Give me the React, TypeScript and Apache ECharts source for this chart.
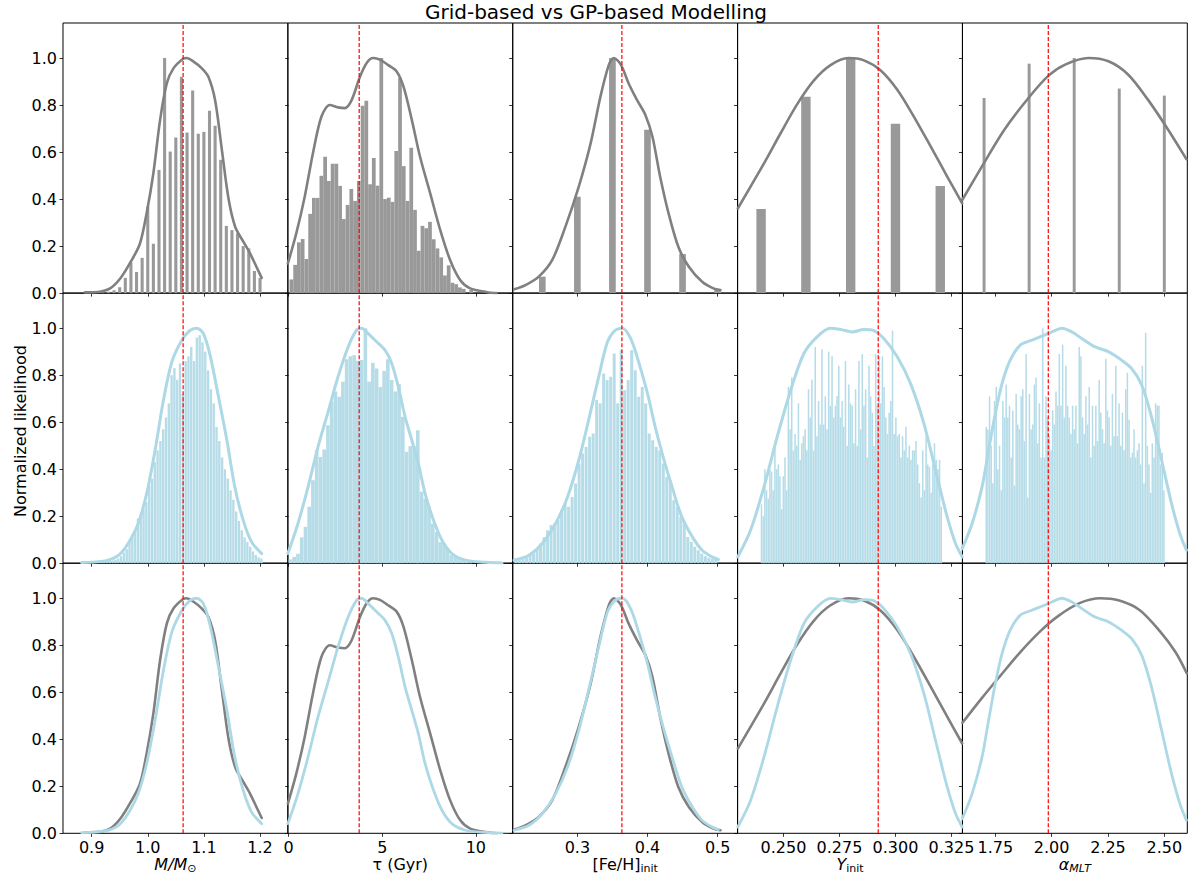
import React, { useEffect, useRef } from "react";
import * as echarts from "echarts";

const FONT = "DejaVu Sans";

// ---- axes per column ----
const COLUMN_MIN = [0.849, -0.04, 0.2078, 0.2295, 1.604];
const COLUMN_MAX = [1.2496, 11.97, 0.5285, 0.3299, 2.602];
const COLUMN_TICKS = [
  [0.9, 1.0, 1.1, 1.2],
  [0, 5, 10],
  [0.3, 0.4, 0.5],
  [0.25, 0.275, 0.3, 0.325],
  [1.75, 2.0, 2.25, 2.5],
];
const COLUMN_DECIMALS = [1, 0, 1, 3, 2];
const COLUMN_NAMES = [
  "{i|M/M}{s|⊙}",
  "{n|τ (Gyr)}",
  "{n|[Fe/H]}{s|init}",
  "{i|Y}{s|init}",
  "{i|α}{si|MLT}",
];
const Y_TICKS = [0, 0.2, 0.4, 0.6, 0.8, 1.0];
const Y_MAX = 1.149;
const TRUE_VALUES = [1.063, 3.77, 0.3635, 0.2923, 1.985];

// ---- grid-based histograms (row 1) ----
const GRID_M_CENTERS = [0.9, 0.91, 0.92, 0.93, 0.94, 0.95, 0.96, 0.97, 0.98, 0.99, 1.0, 1.01, 1.02, 1.03, 1.04, 1.05, 1.06, 1.07, 1.08, 1.09, 1.1, 1.11, 1.12, 1.13, 1.14, 1.15, 1.16, 1.17, 1.18, 1.19, 1.2];
const GRID_M_HEIGHTS = [0.003, 0.0, 0.003, 0.006, 0.012, 0.025, 0.065, 0.13, 0.09, 0.15, 0.368, 0.21, 0.524, 1.0, 0.602, 0.662, 0.92, 0.683, 0.862, 0.678, 0.686, 0.776, 0.712, 0.567, 0.286, 0.268, 0.254, 0.2, 0.19, 0.094, 0.065];
const GRID_TAU_START = 0.05;
const GRID_TAU_BIN = 0.2;
const GRID_TAU_HEIGHTS = [0.058, 0.12, 0.216, 0.23, 0.145, 0.337, 0.405, 0.405, 0.499, 0.58, 0.477, 0.55, 0.55, 0.456, 0.315, 0.375, 0.443, 0.392, 0.477, 0.797, 0.818, 0.463, 0.575, 0.457, 1.0, 0.4, 0.406, 0.388, 0.605, 0.916, 0.54, 0.392, 0.618, 0.354, 0.18, 0.286, 0.276, 0.303, 0.229, 0.19, 0.152, 0.075, 0.118, 0.044, 0.038, 0.024, 0.018, 0.0, 0.013];
const GRID_FEH_CENTERS = [0.25, 0.3, 0.35, 0.4, 0.45, 0.5];
const GRID_FEH_HEIGHTS = [0.07, 0.41, 1.0, 0.695, 0.166, 0.013];
const GRID_Y_CENTERS = [0.24, 0.26, 0.28, 0.3, 0.32];
const GRID_Y_HEIGHTS = [0.358, 0.835, 1.0, 0.72, 0.456];
const GRID_ALPHA_CENTERS = [1.7, 1.9, 2.1, 2.3, 2.5];
const GRID_ALPHA_HEIGHTS = [0.83, 0.976, 1.0, 0.87, 0.84];

// ---- GP-based histograms (row 2) ----
const GP_M_START = 0.88;
const GP_M_BIN = 0.005;
const GP_M_HEIGHTS = [0.002, 0.002, 0.003, 0.003, 0.003, 0.004, 0.005, 0.006, 0.008, 0.007, 0.01, 0.012, 0.015, 0.02, 0.03, 0.045, 0.06, 0.09, 0.11, 0.14, 0.19, 0.21, 0.23, 0.26, 0.33, 0.36, 0.43, 0.48, 0.52, 0.57, 0.62, 0.68, 0.8, 0.83, 0.78, 0.85, 0.72, 0.86, 0.88, 0.92, 0.86, 0.96, 0.97, 0.94, 0.9, 0.82, 0.74, 0.68, 0.58, 0.52, 0.45, 0.4, 0.36, 0.31, 0.27, 0.22, 0.18, 0.14, 0.11, 0.09, 0.07, 0.05, 0.035, 0.025, 0.02];
const GP_TAU_START = 0.0;
const GP_TAU_BIN = 0.2;
const GP_TAU_HEIGHTS = [0.016, 0.027, 0.04, 0.11, 0.155, 0.24, 0.353, 0.48, 0.452, 0.484, 0.587, 0.687, 0.73, 0.708, 0.772, 0.868, 0.88, 0.885, 0.861, 0.864, 1.0, 0.772, 0.852, 0.828, 0.75, 0.818, 0.868, 0.779, 0.73, 0.762, 0.623, 0.474, 0.498, 0.498, 0.566, 0.304, 0.275, 0.24, 0.169, 0.133, 0.09, 0.084, 0.062, 0.034, 0.027, 0.018, 0.013, 0.007, 0.004];
const GP_FEH_START = 0.21;
const GP_FEH_BIN = 0.005;
const GP_FEH_HEIGHTS = [0.01, 0.013, 0.018, 0.024, 0.034, 0.041, 0.062, 0.084, 0.11, 0.14, 0.162, 0.169, 0.183, 0.226, 0.254, 0.24, 0.282, 0.339, 0.424, 0.467, 0.495, 0.538, 0.552, 0.694, 0.68, 0.807, 0.779, 0.793, 0.892, 0.68, 0.906, 0.736, 0.779, 0.906, 0.821, 0.708, 0.75, 0.68, 0.552, 0.523, 0.495, 0.48, 0.424, 0.367, 0.353, 0.268, 0.24, 0.197, 0.169, 0.112, 0.091, 0.07, 0.055, 0.041, 0.03, 0.023, 0.018, 0.016];
const GP_Y_START = 0.2398;
const GP_Y_BIN = 0.00075;
const GP_Y_HEIGHTS = [0.25, 0.2, 0.4, 0.31, 0.275, 0.4, 0.39, 0.31, 0.49, 0.4, 0.42, 0.37, 0.23, 0.37, 0.45, 0.31, 0.75, 0.57, 0.79, 0.48, 0.55, 0.5, 0.68, 0.44, 0.51, 0.54, 0.57, 0.48, 0.74, 0.62, 0.78, 0.48, 0.92, 0.54, 0.69, 0.59, 0.91, 0.59, 0.71, 0.57, 0.9, 0.67, 0.88, 0.62, 0.67, 0.71, 0.84, 0.62, 0.69, 0.58, 0.86, 0.5, 0.76, 0.68, 0.67, 0.51, 0.74, 0.5, 0.86, 0.57, 0.89, 0.67, 0.74, 0.45, 0.84, 0.71, 0.64, 0.5, 0.89, 0.67, 0.88, 0.68, 0.88, 0.75, 0.62, 0.55, 0.64, 0.69, 0.99, 0.55, 0.62, 0.54, 0.55, 0.45, 0.54, 0.48, 0.58, 0.45, 0.5, 0.44, 0.48, 0.48, 0.52, 0.42, 0.34, 0.28, 0.48, 0.31, 0.54, 0.42, 0.41, 0.3, 0.42, 0.51, 0.44, 0.4, 0.44, 0.24];
const GP_ALPHA_START = 1.706;
const GP_ALPHA_BIN = 0.00737;
const GP_ALPHA_HEIGHTS = [0.58, 0.57, 0.71, 0.5, 0.34, 0.69, 0.75, 0.4, 0.5, 0.31, 0.69, 0.62, 0.76, 0.62, 0.67, 0.45, 0.65, 0.33, 0.72, 0.59, 0.57, 0.71, 0.74, 0.52, 0.89, 0.28, 0.72, 0.57, 0.59, 0.76, 0.79, 0.51, 0.68, 0.45, 1.0, 0.45, 0.71, 0.62, 0.54, 0.48, 0.65, 0.59, 0.73, 0.67, 0.89, 0.67, 0.93, 0.62, 0.84, 0.67, 0.62, 0.55, 0.67, 0.57, 0.67, 0.51, 0.92, 0.88, 0.62, 0.55, 0.71, 0.59, 0.75, 0.45, 0.67, 0.5, 0.67, 0.52, 0.78, 0.64, 0.57, 0.51, 0.87, 0.65, 0.62, 0.5, 0.72, 0.54, 0.84, 0.54, 0.68, 0.5, 0.64, 0.48, 0.74, 0.81, 0.61, 0.45, 0.47, 0.57, 0.45, 0.48, 0.51, 0.42, 0.84, 0.34, 0.98, 0.5, 0.42, 0.3, 0.51, 0.45, 0.68, 0.67, 0.67, 0.42, 0.47, 0.31];

// ---- KDE curves ----
const KDE_GRID_M = [[0.888, 0.003], [0.915, 0.006], [0.933, 0.02], [0.951, 0.062], [0.968, 0.126], [0.986, 0.21], [0.998, 0.34], [1.01, 0.51], [1.022, 0.737], [1.034, 0.893], [1.046, 0.957], [1.063, 0.997], [1.069, 1.0], [1.081, 0.986], [1.096, 0.957], [1.108, 0.92], [1.12, 0.82], [1.132, 0.61], [1.144, 0.4], [1.156, 0.28], [1.17, 0.22], [1.182, 0.17], [1.194, 0.11], [1.203, 0.065]];
const KDE_GRID_TAU = [[-0.04, 0.126], [0.41, 0.254], [0.86, 0.41], [1.3, 0.595], [1.75, 0.75], [2.2, 0.8], [2.64, 0.79], [3.0, 0.787], [3.36, 0.82], [3.81, 0.92], [4.17, 0.979], [4.52, 1.0], [4.88, 0.993], [5.32, 0.97], [5.77, 0.943], [6.13, 0.88], [6.58, 0.737], [7.02, 0.58], [7.56, 0.425], [8.1, 0.268], [8.63, 0.14], [9.17, 0.055], [9.7, 0.02], [10.6, 0.004], [11.1, 0.0]];
const KDE_GRID_FEH = [[0.21, 0.016], [0.226, 0.034], [0.245, 0.07], [0.264, 0.14], [0.283, 0.283], [0.302, 0.453], [0.319, 0.638], [0.333, 0.837], [0.345, 0.972], [0.352, 1.0], [0.362, 0.972], [0.373, 0.893], [0.385, 0.822], [0.397, 0.758], [0.407, 0.666], [0.418, 0.496], [0.43, 0.34], [0.444, 0.197], [0.459, 0.112], [0.478, 0.048], [0.494, 0.02], [0.504, 0.013]];
const KDE_GRID_Y = [[0.2296, 0.36], [0.2413, 0.552], [0.2487, 0.68], [0.2562, 0.805], [0.2636, 0.905], [0.271, 0.97], [0.279, 1.0], [0.2859, 0.99], [0.2933, 0.948], [0.3008, 0.865], [0.3082, 0.751], [0.3157, 0.624], [0.3231, 0.496], [0.3298, 0.382]];
const KDE_GRID_ALPHA = [[1.603, 0.396], [1.69, 0.538], [1.79, 0.695], [1.897, 0.83], [1.986, 0.925], [2.06, 0.972], [2.163, 1.0], [2.252, 0.986], [2.34, 0.929], [2.428, 0.822], [2.517, 0.695], [2.598, 0.57]];
const KDE_GRID_ALPHA_COMPARE = [[1.604, 0.47], [1.69, 0.575], [1.772, 0.67], [1.86, 0.77], [1.95, 0.86], [2.03, 0.925], [2.126, 0.98], [2.215, 1.0], [2.3, 0.99], [2.39, 0.95], [2.48, 0.86], [2.55, 0.77], [2.6, 0.68]];

const KDE_GP_M = [[0.882, 0.003], [0.924, 0.01], [0.948, 0.034], [0.965, 0.084], [0.983, 0.169], [0.998, 0.296], [1.013, 0.48], [1.028, 0.694], [1.043, 0.857], [1.061, 0.949], [1.075, 0.99], [1.087, 1.0], [1.099, 0.977], [1.111, 0.885], [1.126, 0.708], [1.141, 0.523], [1.155, 0.325], [1.17, 0.183], [1.185, 0.09], [1.203, 0.041]];
const KDE_GP_TAU = [[-0.04, 0.041], [0.5, 0.169], [1.04, 0.325], [1.57, 0.495], [2.11, 0.644], [2.64, 0.793], [3.18, 0.92], [3.63, 0.991], [3.9, 1.0], [4.25, 0.977], [4.7, 0.942], [5.15, 0.906], [5.51, 0.85], [5.86, 0.75], [6.22, 0.623], [6.58, 0.523], [6.93, 0.424], [7.29, 0.296], [7.74, 0.183], [8.19, 0.098], [8.72, 0.041], [9.44, 0.013], [10.51, 0.004], [11.4, 0.001]];
const KDE_GP_FEH = [[0.2097, 0.013], [0.231, 0.034], [0.25, 0.084], [0.269, 0.169], [0.286, 0.282], [0.302, 0.438], [0.316, 0.608], [0.331, 0.8], [0.343, 0.942], [0.354, 0.991], [0.364, 1.0], [0.376, 0.956], [0.388, 0.85], [0.4, 0.722], [0.411, 0.58], [0.423, 0.445], [0.435, 0.325], [0.449, 0.197], [0.464, 0.112], [0.478, 0.055], [0.492, 0.027], [0.501, 0.016]];
const KDE_GP_Y = [[0.2296, 0.027], [0.2353, 0.14], [0.2413, 0.325], [0.2472, 0.538], [0.2532, 0.736], [0.2591, 0.892], [0.265, 0.963], [0.271, 0.999], [0.2755, 0.994], [0.2807, 0.984], [0.2859, 0.994], [0.2904, 0.989], [0.2948, 0.956], [0.3008, 0.878], [0.3067, 0.765], [0.3127, 0.594], [0.3186, 0.367], [0.3231, 0.197], [0.3268, 0.084], [0.3298, 0.027]];
const KDE_GP_ALPHA = [[1.603, 0.062], [1.647, 0.169], [1.691, 0.325], [1.72, 0.48], [1.75, 0.637], [1.78, 0.765], [1.816, 0.864], [1.861, 0.928], [1.912, 0.949], [1.957, 0.966], [2.001, 0.984], [2.045, 1.0], [2.09, 0.984], [2.134, 0.956], [2.193, 0.92], [2.251, 0.9], [2.31, 0.864], [2.355, 0.828], [2.4, 0.757], [2.443, 0.623], [2.488, 0.438], [2.532, 0.254], [2.569, 0.126], [2.598, 0.055]];

// ---- styling ----
const GREY_BAR = "#999999";
const GREY_LINE = "#808080";
const BLUE_BAR = "#b6dce8";
const BLUE_LINE = "#add8e6";
const GRID_LEFT0 = 63;
const GRID_WIDTH = 224.86;
const GRID_TOP0 = 23;
const GRID_HEIGHT = 270.1;

function binned(start: number, bin: number, heights: number[]) {
  return heights.map((h, i) => [start + (i + 0.5) * bin, h]);
}
function paired(centers: number[], heights: number[]) {
  return centers.map((c, i) => [c, heights[i]]);
}

function barSeries(panel: number, data: number[][], width: number, fill: string) {
  return {
    type: "custom",
    xAxisIndex: panel,
    yAxisIndex: panel,
    silent: true,
    z: 1,
    encode: { x: 0, y: 1 },
    data,
    renderItem: (_params: any, api: any) => {
      const x = api.value(0);
      const h = api.value(1);
      const p0 = api.coord([x - width / 2, h]);
      const p1 = api.coord([x + width / 2, 0]);
      return {
        type: "rect",
        shape: { x: p0[0], y: p0[1], width: p1[0] - p0[0], height: p1[1] - p0[1] },
        style: { fill },
      };
    },
  };
}

function lineSeries(panel: number, data: number[][], color: string, width: number, z: number) {
  return {
    type: "line",
    xAxisIndex: panel,
    yAxisIndex: panel,
    data,
    showSymbol: false,
    symbol: "none",
    smooth: 0.3,
    silent: true,
    z,
    lineStyle: { color, width, cap: "round", join: "round" },
  };
}

function truthSeries(panel: number, value: number) {
  return {
    type: "line",
    xAxisIndex: panel,
    yAxisIndex: panel,
    data: [[value, 0], [value, Y_MAX]],
    showSymbol: false,
    symbol: "none",
    silent: true,
    z: 6,
    lineStyle: { color: "#ff0000", width: 1.2, type: [4, 2] },
  };
}

function buildOption() {
  const grids: any[] = [];
  const xAxes: any[] = [];
  const yAxes: any[] = [];
  const series: any[] = [];

  const gridHist = [
    { data: paired(GRID_M_CENTERS, GRID_M_HEIGHTS), w: 0.0055 },
    { data: binned(GRID_TAU_START, GRID_TAU_BIN, GRID_TAU_HEIGHTS), w: GRID_TAU_BIN },
    { data: paired(GRID_FEH_CENTERS, GRID_FEH_HEIGHTS), w: 0.0095 },
    { data: paired(GRID_Y_CENTERS, GRID_Y_HEIGHTS), w: 0.0042 },
    { data: paired(GRID_ALPHA_CENTERS, GRID_ALPHA_HEIGHTS), w: 0.013 },
  ];
  const gpHist = [
    { data: binned(GP_M_START, GP_M_BIN, GP_M_HEIGHTS), w: GP_M_BIN * 0.85 },
    { data: binned(GP_TAU_START, GP_TAU_BIN, GP_TAU_HEIGHTS), w: GP_TAU_BIN * 0.97 },
    { data: binned(GP_FEH_START, GP_FEH_BIN, GP_FEH_HEIGHTS), w: GP_FEH_BIN * 0.85 },
    { data: binned(GP_Y_START, GP_Y_BIN, GP_Y_HEIGHTS), w: GP_Y_BIN * 0.92 },
    { data: binned(GP_ALPHA_START, GP_ALPHA_BIN, GP_ALPHA_HEIGHTS), w: GP_ALPHA_BIN * 0.92 },
  ];
  const gridKde = [KDE_GRID_M, KDE_GRID_TAU, KDE_GRID_FEH, KDE_GRID_Y, KDE_GRID_ALPHA];
  const gridKdeCompare = [KDE_GRID_M, KDE_GRID_TAU, KDE_GRID_FEH, KDE_GRID_Y, KDE_GRID_ALPHA_COMPARE];
  const gpKde = [KDE_GP_M, KDE_GP_TAU, KDE_GP_FEH, KDE_GP_Y, KDE_GP_ALPHA];

  const rich = {
    n: { fontSize: 16, fontFamily: FONT, color: "#000", lineHeight: 20 },
    i: { fontSize: 16, fontFamily: FONT, color: "#000", lineHeight: 20, fontStyle: "italic" },
    s: { fontSize: 11, fontFamily: FONT, color: "#000", lineHeight: 10, verticalAlign: "bottom" },
    si: { fontSize: 11, fontFamily: FONT, color: "#000", lineHeight: 10, verticalAlign: "bottom", fontStyle: "italic" },
  };

  for (let r = 0; r < 3; r++) {
    for (let c = 0; c < 5; c++) {
      const p = r * 5 + c;
      grids.push({
        left: GRID_LEFT0 + c * GRID_WIDTH,
        top: GRID_TOP0 + r * GRID_HEIGHT,
        width: GRID_WIDTH,
        height: GRID_HEIGHT,
        show: true,
        borderColor: "#000",
        borderWidth: 1,
        backgroundColor: "transparent",
        containLabel: false,
        outerBoundsMode: "none",
      });
      const dec = COLUMN_DECIMALS[c];
      xAxes.push({
        gridIndex: p,
        type: "value",
        min: COLUMN_MIN[c],
        max: COLUMN_MAX[c],
        axisLine: { show: false },
        splitLine: { show: false },
        axisTick: {
          show: true,
          length: 3.5,
          lineStyle: { color: "#000", width: 0.8 },
          customValues: COLUMN_TICKS[c],
        },
        axisLabel: {
          show: r === 2,
          customValues: COLUMN_TICKS[c],
          formatter: (v: number) => v.toFixed(dec),
          fontSize: 16,
          fontFamily: FONT,
          color: "#000",
          margin: 6,
        },
        name: r === 2 ? COLUMN_NAMES[c] : "",
        nameLocation: "middle",
        nameGap: 21,
        nameTextStyle: { rich, fontSize: 16, fontFamily: FONT, color: "#000" },
      });
      yAxes.push({
        gridIndex: p,
        type: "value",
        min: 0,
        max: Y_MAX,
        axisLine: { show: false },
        splitLine: { show: false },
        axisTick: {
          show: true,
          length: 3.5,
          lineStyle: { color: "#000", width: 0.8 },
          customValues: Y_TICKS,
        },
        axisLabel: {
          show: c === 0,
          customValues: Y_TICKS,
          formatter: (v: number) => v.toFixed(1),
          fontSize: 16,
          fontFamily: FONT,
          color: "#000",
          margin: 6,
        },
      });

      if (r === 0) {
        series.push(barSeries(p, gridHist[c].data, gridHist[c].w, GREY_BAR));
        series.push(lineSeries(p, gridKde[c], GREY_LINE, 2.6, 3));
      } else if (r === 1) {
        series.push(barSeries(p, gpHist[c].data, gpHist[c].w, BLUE_BAR));
        series.push(lineSeries(p, gpKde[c], BLUE_LINE, 3, 3));
      } else {
        series.push(lineSeries(p, gridKdeCompare[c], GREY_LINE, 2.6, 3));
        series.push(lineSeries(p, gpKde[c], BLUE_LINE, 2.8, 4));
      }
      series.push(truthSeries(p, TRUE_VALUES[c]));
    }
  }

  return {
    animation: false,
    backgroundColor: "#fff",
    grid: grids,
    xAxis: xAxes,
    yAxis: yAxes,
    series,
    graphic: [
      {
        type: "text",
        x: 596,
        y: 12,
        style: {
          text: "Grid-based vs GP-based Modelling",
          fontSize: 20,
          fontFamily: FONT,
          fill: "#000",
          textAlign: "center",
          textVerticalAlign: "middle",
        },
      },
      {
        type: "text",
        x: 20,
        y: 431,
        rotation: Math.PI / 2,
        style: {
          text: "Normalized likelihood",
          fontSize: 16,
          fontFamily: FONT,
          fill: "#000",
          textAlign: "center",
          textVerticalAlign: "middle",
        },
      },
    ],
  };
}

export default function App() {
  const ref = useRef<HTMLDivElement>(null);
  useEffect(() => {
    const chart = echarts.init(ref.current!, null, { renderer: "svg" });
    chart.setOption(buildOption() as any);
    return () => chart.dispose();
  }, []);
  return (
    <div
      ref={ref}
      style={{ position: "fixed", left: 0, top: 0, width: 1189, height: 879, background: "#fff" }}
    />
  );
}
